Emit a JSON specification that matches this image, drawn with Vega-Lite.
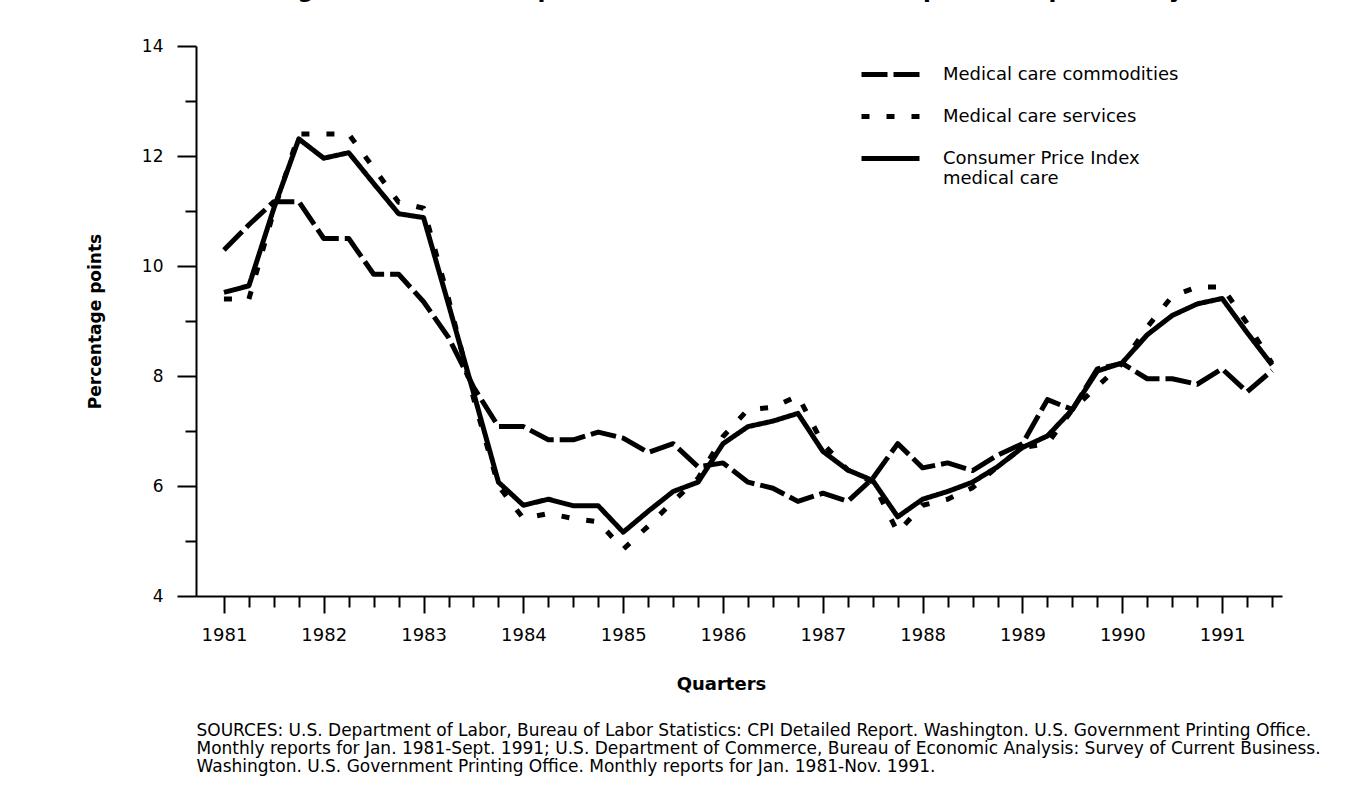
{
  "$schema": "https://vega.github.io/schema/vega-lite/v6.json",
  "width": 1086,
  "height": 550,
  "autosize": "none",
  "padding": {"left": 196, "top": 46, "right": 63, "bottom": 191},
  "background": "white",
  "config": {
    "view": {"stroke": null},
    "font": "DejaVu Sans",
    "axis": {"labelColor": "black", "titleColor": "black", "domainColor": "black", "tickColor": "black", "grid": false, "labelFont": "DejaVu Sans", "titleFont": "DejaVu Sans"},
    "legend": {"labelColor": "black", "labelFont": "DejaVu Sans"}
  },
  "title": {
    "text": "Percent change in measures of price inflation from the same period of previous year: 1981–91",
    "fontSize": 23,
    "fontWeight": "bold",
    "font": "DejaVu Sans",
    "color": "black",
    "anchor": "middle",
    "offset": 35
  },
  "data": {
    "values": [
      {"quarter": 1981.00, "commodities": 10.29, "services": 9.40, "cpi": 9.52},
      {"quarter": 1981.25, "commodities": 10.75, "services": 9.40, "cpi": 9.64},
      {"quarter": 1981.50, "commodities": 11.17, "services": 11.00, "cpi": 11.05},
      {"quarter": 1981.75, "commodities": 11.17, "services": 12.40, "cpi": 12.31},
      {"quarter": 1982.00, "commodities": 10.50, "services": 12.40, "cpi": 11.96},
      {"quarter": 1982.25, "commodities": 10.50, "services": 12.40, "cpi": 12.06},
      {"quarter": 1982.50, "commodities": 9.85, "services": 11.78, "cpi": 11.50},
      {"quarter": 1982.75, "commodities": 9.85, "services": 11.16, "cpi": 10.95},
      {"quarter": 1983.00, "commodities": 9.35, "services": 11.05, "cpi": 10.88},
      {"quarter": 1983.25, "commodities": 8.70, "services": 9.40, "cpi": 9.30},
      {"quarter": 1983.50, "commodities": 7.80, "services": 7.60, "cpi": 7.70},
      {"quarter": 1983.75, "commodities": 7.08, "services": 6.00, "cpi": 6.07},
      {"quarter": 1984.00, "commodities": 7.08, "services": 5.41, "cpi": 5.65},
      {"quarter": 1984.25, "commodities": 6.84, "services": 5.50, "cpi": 5.76},
      {"quarter": 1984.50, "commodities": 6.84, "services": 5.41, "cpi": 5.64},
      {"quarter": 1984.75, "commodities": 6.98, "services": 5.35, "cpi": 5.64},
      {"quarter": 1985.00, "commodities": 6.87, "services": 4.85, "cpi": 5.16},
      {"quarter": 1985.25, "commodities": 6.61, "services": 5.27, "cpi": 5.54},
      {"quarter": 1985.50, "commodities": 6.77, "services": 5.72, "cpi": 5.90},
      {"quarter": 1985.75, "commodities": 6.35, "services": 6.14, "cpi": 6.07},
      {"quarter": 1986.00, "commodities": 6.42, "services": 6.90, "cpi": 6.77},
      {"quarter": 1986.25, "commodities": 6.07, "services": 7.39, "cpi": 7.08},
      {"quarter": 1986.50, "commodities": 5.96, "services": 7.43, "cpi": 7.18},
      {"quarter": 1986.75, "commodities": 5.72, "services": 7.64, "cpi": 7.32},
      {"quarter": 1987.00, "commodities": 5.87, "services": 6.77, "cpi": 6.63},
      {"quarter": 1987.25, "commodities": 5.72, "services": 6.29, "cpi": 6.29},
      {"quarter": 1987.50, "commodities": 6.14, "services": 6.07, "cpi": 6.10},
      {"quarter": 1987.75, "commodities": 6.77, "services": 5.16, "cpi": 5.44},
      {"quarter": 1988.00, "commodities": 6.33, "services": 5.65, "cpi": 5.76},
      {"quarter": 1988.25, "commodities": 6.42, "services": 5.76, "cpi": 5.90},
      {"quarter": 1988.50, "commodities": 6.28, "services": 5.97, "cpi": 6.07},
      {"quarter": 1988.75, "commodities": 6.56, "services": 6.35, "cpi": 6.35},
      {"quarter": 1989.00, "commodities": 6.77, "services": 6.70, "cpi": 6.70},
      {"quarter": 1989.25, "commodities": 7.57, "services": 6.77, "cpi": 6.91},
      {"quarter": 1989.50, "commodities": 7.39, "services": 7.39, "cpi": 7.39},
      {"quarter": 1989.75, "commodities": 8.13, "services": 7.81, "cpi": 8.09},
      {"quarter": 1990.00, "commodities": 8.23, "services": 8.23, "cpi": 8.24},
      {"quarter": 1990.25, "commodities": 7.95, "services": 8.89, "cpi": 8.75},
      {"quarter": 1990.50, "commodities": 7.95, "services": 9.45, "cpi": 9.10},
      {"quarter": 1990.75, "commodities": 7.85, "services": 9.62, "cpi": 9.31},
      {"quarter": 1991.00, "commodities": 8.13, "services": 9.62, "cpi": 9.41},
      {"quarter": 1991.25, "commodities": 7.71, "services": 8.96, "cpi": 8.79},
      {"quarter": 1991.50, "commodities": 8.10, "services": 8.23, "cpi": 8.20}
    ]
  },
  "layer": [
    {
      "transform": [{"fold": ["commodities", "services", "cpi"], "as": ["series", "value"]}],
      "mark": {"type": "line", "color": "black", "strokeWidth": 5, "strokeCap": "butt", "strokeJoin": "round"},
      "encoding": {
        "x": {
          "field": "quarter",
          "type": "quantitative",
          "scale": {"domain": [1980.72, 1991.6], "nice": false, "zero": false},
          "axis": {
            "orient": "bottom",
            "values": [1981, 1981.25, 1981.5, 1981.75, 1982, 1982.25, 1982.5, 1982.75, 1983, 1983.25, 1983.5, 1983.75, 1984, 1984.25, 1984.5, 1984.75, 1985, 1985.25, 1985.5, 1985.75, 1986, 1986.25, 1986.5, 1986.75, 1987, 1987.25, 1987.5, 1987.75, 1988, 1988.25, 1988.5, 1988.75, 1989, 1989.25, 1989.5, 1989.75, 1990, 1990.25, 1990.5, 1990.75, 1991, 1991.25, 1991.5],
            "tickSize": {"condition": {"test": "datum.value % 1 == 0", "value": 17}, "value": 11},
            "tickWidth": 2,
            "domainWidth": 2,
            "labelExpr": "datum.value % 1 == 0 ? format(datum.value, 'd') : ''",
            "labelOverlap": false,
            "labelFlush": false,
            "labelFontSize": 18,
            "labelPadding": 13,
            "title": "Quarters",
            "titleFontSize": 18,
            "titleFontWeight": "bold",
            "titleX": 525,
            "titlePadding": 31
          }
        },
        "y": {
          "field": "value",
          "type": "quantitative",
          "scale": {"domain": [4, 14], "nice": false, "zero": false},
          "axis": {
            "values": [4, 5, 6, 7, 8, 9, 10, 11, 12, 13, 14],
            "tickSize": {"condition": {"test": "datum.value % 2 == 0", "value": 19}, "value": 11},
            "tickWidth": 2,
            "domainWidth": 2,
            "labelExpr": "datum.value % 2 == 0 ? datum.label : ''",
            "labelFontSize": 17,
            "labelPadding": 14,
            "title": "Percentage points",
            "titleFontSize": 17,
            "titleFontWeight": "bold",
            "titlePadding": 37
          }
        },
        "strokeDash": {
          "field": "series",
          "type": "nominal",
          "scale": {"domain": ["commodities", "services", "cpi"], "range": [[26, 6], [8, 17], [1, 0]]},
          "legend": {
            "orient": "none",
            "legendX": 663,
            "legendY": -3,
            "title": null,
            "padding": 0,
            "symbolType": "stroke",
            "symbolSize": 3364,
            "symbolStrokeWidth": 5,
            "symbolStrokeColor": "black",
            "labelFontSize": 18,
            "labelOffset": 21,
            "rowPadding": -2,
            "labelLimit": 400,
            "labelExpr": "datum.value == 'cpi' ? ['Consumer Price Index', 'medical care'] : datum.value == 'services' ? 'Medical care services' : 'Medical care commodities'"
          }
        }
      }
    },
    {
      "mark": {"type": "rule", "opacity": 0},
      "encoding": {
        "x": {
          "field": "quarter",
          "type": "quantitative",
          "axis": {
            "orient": "bottom",
            "domain": false,
            "ticks": false,
            "labels": false,
            "title": [
              "SOURCES: U.S. Department of Labor, Bureau of Labor Statistics:  CPI Detailed Report. Washington.  U.S. Government Printing Office.",
              "Monthly reports for Jan. 1981-Sept. 1991; U.S. Department of Commerce, Bureau of Economic Analysis:  Survey of Current Business.",
              "Washington.  U.S. Government Printing Office.  Monthly reports for Jan. 1981-Nov. 1991."
            ],
            "titleAnchor": "start",
            "titleAlign": "left",
            "titleFontWeight": "normal",
            "titleFontSize": 17,
            "titleLineHeight": 18,
            "titlePadding": 126
          }
        }
      }
    }
  ],
  "resolve": {"axis": {"x": "independent"}}
}
